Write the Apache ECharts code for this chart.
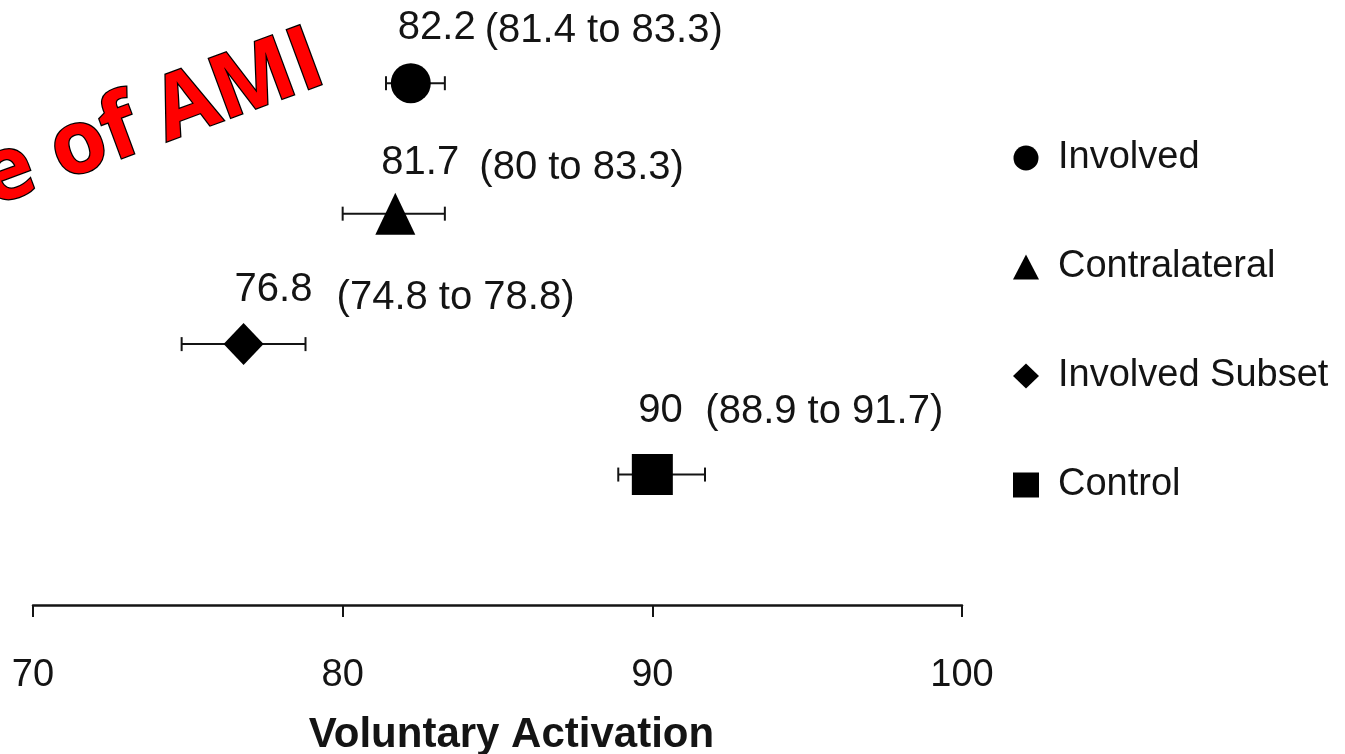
<!DOCTYPE html>
<html>
<head>
<meta charset="utf-8">
<script src="https://cdn.jsdelivr.net/npm/echarts@6/dist/echarts.min.js"></script>
<style>
  html, body { margin: 0; padding: 0; background: #fff; }
  #chart { width: 1345px; height: 754px; }
</style>
</head>
<body>
<div id="chart"></div>
<script>
// values
const groups = ['Involved', 'Contralateral', 'Involved Subset', 'Control'];
const means = [82.2, 81.7, 76.8, 90];
const lows = [81.4, 80, 74.8, 88.9];
const highs = [83.3, 83.3, 78.8, 91.7];
const xTicks = [70, 80, 90, 100];

// marker look per group
const symbols = ['circle', 'triangle', 'diamond', 'rect'];
const symbolSizes = [40, [40, 42], [40, 42], 41];
// label nudges in px: [valueDx, valueDy, ciDx, ciDy]
const labelNudge = [[-13, -55, 74, -52], [-14, -51, 84, -46], [-9, -54, 93, -46], [-14, -64, 53, -63]];

const ink = '#141414';
const font = '"Liberation Sans", Arial, sans-serif';

const myChart = echarts.init(document.getElementById('chart'));

const errorData = groups.map((g, i) => [means[i], lows[i], highs[i], i]);

function renderErrorBar(params, api) {
  const row = api.value(3);
  const mid = api.coord([api.value(0), row]);
  const lo = api.coord([api.value(1), row]);
  const hi = api.coord([api.value(2), row]);
  const cap = 7;
  const nudge = labelNudge[params.dataIndex];
  const lineStyle = { stroke: ink, lineWidth: 2 };
  return {
    type: 'group',
    children: [
      { type: 'line', shape: { x1: lo[0], y1: lo[1], x2: hi[0], y2: hi[1] }, style: lineStyle },
      { type: 'line', shape: { x1: lo[0], y1: lo[1] - cap, x2: lo[0], y2: lo[1] + cap }, style: lineStyle },
      { type: 'line', shape: { x1: hi[0], y1: hi[1] - cap, x2: hi[0], y2: hi[1] + cap }, style: lineStyle },
      {
        type: 'text', x: mid[0] + nudge[0], y: mid[1] + nudge[1],
        style: { text: String(api.value(0)), fontSize: 40, fontFamily: font, fill: ink, align: 'left', verticalAlign: 'middle' }
      },
      {
        type: 'text', x: mid[0] + nudge[2], y: mid[1] + nudge[3],
        style: { text: '(' + api.value(1) + ' to ' + api.value(2) + ')', fontSize: 40, fontFamily: font, fill: ink, align: 'left', verticalAlign: 'middle' }
      }
    ]
  };
}

const options = {
  animation: false,
  backgroundColor: '#fff',
  grid: { left: 33, right: 383, top: 18, bottom: 149, outerBoundsMode: 'none', containLabel: false },
  legend: {
    data: groups,
    orient: 'vertical',
    left: 1008,
    top: 134,
    itemWidth: 26,
    itemHeight: 25,
    itemGap: 71,
    selectedMode: false,
    textStyle: { fontSize: 38, lineHeight: 38, fontFamily: font, color: ink, padding: [0, 0, 0, 14] }
  },
  xAxis: {
    type: 'value',
    min: xTicks[0],
    max: xTicks[xTicks.length - 1],
    interval: 10,
    splitLine: { show: false },
    axisLine: { show: true, onZero: false, lineStyle: { color: ink, width: 2.5 } },
    axisTick: { show: true, length: 12, lineStyle: { color: ink, width: 2 } },
    axisLabel: { fontSize: 38, fontFamily: font, color: ink, margin: 52 },
    name: 'Voluntary Activation',
    nameLocation: 'middle',
    nameGap: 109,
    nameTextStyle: { fontSize: 42, fontWeight: 'bold', fontFamily: font, color: ink, padding: [0, 0, 0, 28] }
  },
  yAxis: {
    type: 'value',
    inverse: true,
    min: -0.5,
    max: 4,
    show: false
  },
  graphic: [{
    type: 'text',
    x: 320,
    y: 58,
    rotation: 0.355,
    z: 10,
    style: {
      text: 'e of AMI',
      fontSize: 88,
      fontWeight: 'bold',
      fontFamily: '"Open Sans", sans-serif',
      fill: '#ff0000',
      stroke: '#000',
      lineWidth: 2.5,
      align: 'right',
      verticalAlign: 'middle'
    }
  }],
  series: [
    {
      type: 'custom',
      z: 2,
      renderItem: renderErrorBar,
      encode: { x: [0, 1, 2], y: 3 },
      data: errorData,
      silent: true
    }
  ].concat(groups.map((g, i) => ({
    name: g,
    type: 'scatter',
    z: 3,
    symbol: symbols[i],
    symbolSize: symbolSizes[i],
    itemStyle: { color: '#000', opacity: 1 },
    data: [[means[i], i]]
  })))
};

myChart.setOption(options);
</script>
</body>
</html>
